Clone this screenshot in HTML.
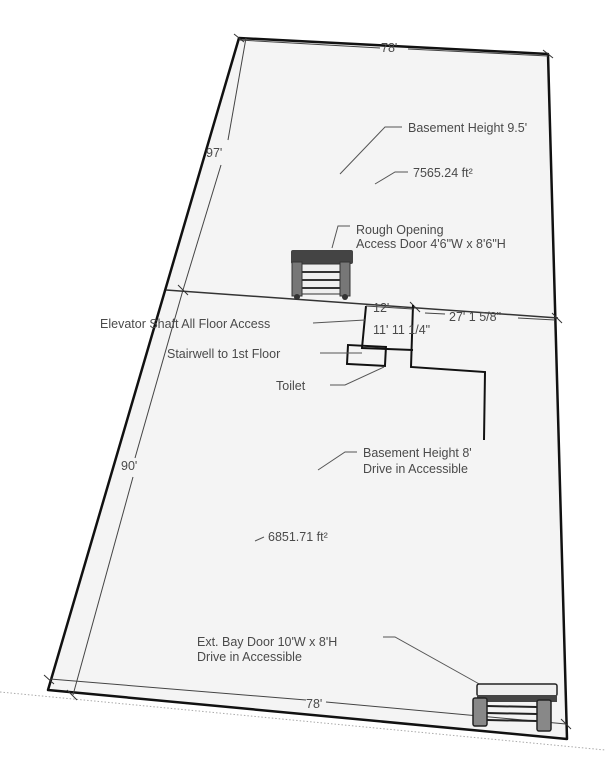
<!DOCTYPE html>
<html><head><meta charset="utf-8"><style>
html,body{margin:0;padding:0;background:#fff;}
svg{display:block;}
text{font-family:"Liberation Sans",sans-serif;font-size:12.5px;fill:#4a4a4a;}
</style></head><body>
<svg width="605" height="768" viewBox="0 0 605 768" xmlns="http://www.w3.org/2000/svg">
<line x1="0" y1="692" x2="605" y2="750" stroke="#aaa" stroke-width="1" stroke-dasharray="1.5,2"/>
<polygon points="239,38 548,54 567,739 48,690" fill="#f4f4f4" stroke="#111" stroke-width="2.5" stroke-linejoin="round"/>
<line x1="239" y1="40" x2="380" y2="48" stroke="#444" stroke-width="1"/>
<line x1="408" y1="49" x2="548" y2="56" stroke="#444" stroke-width="1"/>
<text x="381" y="52" font-size="12">78'</text>
<line x1="246" y1="38" x2="228" y2="140" stroke="#444" stroke-width="1"/>
<line x1="221" y1="165" x2="183" y2="290" stroke="#444" stroke-width="1"/>
<text x="206" y="157">97'</text>
<line x1="183" y1="290" x2="135" y2="458" stroke="#444" stroke-width="1"/>
<line x1="133" y1="477" x2="73" y2="695" stroke="#444" stroke-width="1"/>
<text x="121" y="470">90'</text>
<line x1="166" y1="290" x2="558" y2="318" stroke="#333" stroke-width="1.5"/>
<line x1="50" y1="679" x2="306" y2="700" stroke="#444" stroke-width="1"/>
<line x1="326" y1="702" x2="566" y2="724" stroke="#444" stroke-width="1"/>
<text x="306" y="708">78'</text>
<g stroke="#333" stroke-width="1">
<line x1="44" y1="675" x2="54" y2="684"/><line x1="67" y1="690" x2="77" y2="700"/>
<line x1="561" y1="719" x2="571" y2="729"/><line x1="178" y1="285" x2="188" y2="295"/>
<line x1="234" y1="34" x2="244" y2="42"/><line x1="543" y1="50" x2="553" y2="58"/>
<line x1="552" y1="313" x2="562" y2="323"/><line x1="410" y1="302" x2="420" y2="312"/>
</g>
<g fill="none" stroke="#111" stroke-width="2">
<polyline points="366,306 362,348 413,350"/>
<rect x="348" y="345" width="38" height="19" transform="rotate(3 348 345)"/>
<polyline points="413,305 411,367 485,372 484,440"/>
</g>
<line x1="366" y1="306" x2="413" y2="309" stroke="#444" stroke-width="1"/>
<text x="373" y="312" font-size="12">12'</text>
<text x="373" y="334">11' 11 1/4"</text>
<line x1="425" y1="313" x2="445" y2="314" stroke="#444"/>
<line x1="518" y1="318" x2="555" y2="320" stroke="#444"/>
<text x="449" y="321">27' 1 5/8"</text>
<text x="408" y="132">Basement Height 9.5'</text>
<polyline points="402,127 385,127 340,174" fill="none" stroke="#555"/>
<text x="413" y="177">7565.24 ft²</text>
<polyline points="408,172 395,172 375,184" fill="none" stroke="#555"/>
<text x="356" y="234">Rough Opening</text>
<text x="356" y="248">Access Door 4'6"W x 8'6"H</text>
<polyline points="350,226 338,226 332,248" fill="none" stroke="#555"/>
<text x="100" y="328">Elevator Shaft All Floor Access</text>
<line x1="313" y1="323" x2="365" y2="320" stroke="#555"/>
<text x="167" y="358">Stairwell to 1st Floor</text>
<line x1="320" y1="353" x2="362" y2="353" stroke="#555"/>
<text x="276" y="390">Toilet</text>
<polyline points="330,385 345,385 384,367" fill="none" stroke="#555"/>
<text x="363" y="457">Basement Height 8'</text>
<text x="363" y="473">Drive in Accessible</text>
<polyline points="357,452 345,452 318,470" fill="none" stroke="#555"/>
<text x="268" y="541">6851.71 ft²</text>
<line x1="264" y1="537" x2="255" y2="541" stroke="#555"/>
<text x="197" y="646">Ext. Bay Door 10'W x 8'H</text>
<text x="197" y="661">Drive in Accessible</text>
<polyline points="383,637 395,637 490,690" fill="none" stroke="#555"/>
<g>
<rect x="291" y="250" width="62" height="14" fill="#444" rx="2"/>
<rect x="292" y="262" width="10" height="34" fill="#777" stroke="#333"/>
<rect x="340" y="262" width="10" height="34" fill="#777" stroke="#333"/>
<rect x="302" y="264" width="38" height="30" fill="#eee" stroke="#333"/>
<line x1="302" y1="272" x2="340" y2="272" stroke="#333" stroke-width="2"/>
<line x1="302" y1="280" x2="340" y2="280" stroke="#333" stroke-width="2"/>
<line x1="302" y1="288" x2="340" y2="288" stroke="#333" stroke-width="2"/>
<circle cx="297" cy="297" r="3" fill="#333"/><circle cx="345" cy="297" r="3" fill="#333"/>
</g>
<g>
<rect x="477" y="684" width="80" height="12" fill="#eee" stroke="#222" stroke-width="1.5" rx="2"/>
<rect x="477" y="695" width="80" height="7" fill="#444"/>
<rect x="473" y="698" width="14" height="28" fill="#888" stroke="#222" stroke-width="1.5" rx="2"/>
<rect x="537" y="700" width="14" height="31" fill="#888" stroke="#222" stroke-width="1.5" rx="2"/>
<line x1="487" y1="706" x2="537" y2="707" stroke="#222" stroke-width="2"/>
<line x1="487" y1="713" x2="537" y2="714" stroke="#222" stroke-width="2"/>
<line x1="487" y1="720" x2="537" y2="721" stroke="#222" stroke-width="2"/>
</g>
</svg>
</body></html>
